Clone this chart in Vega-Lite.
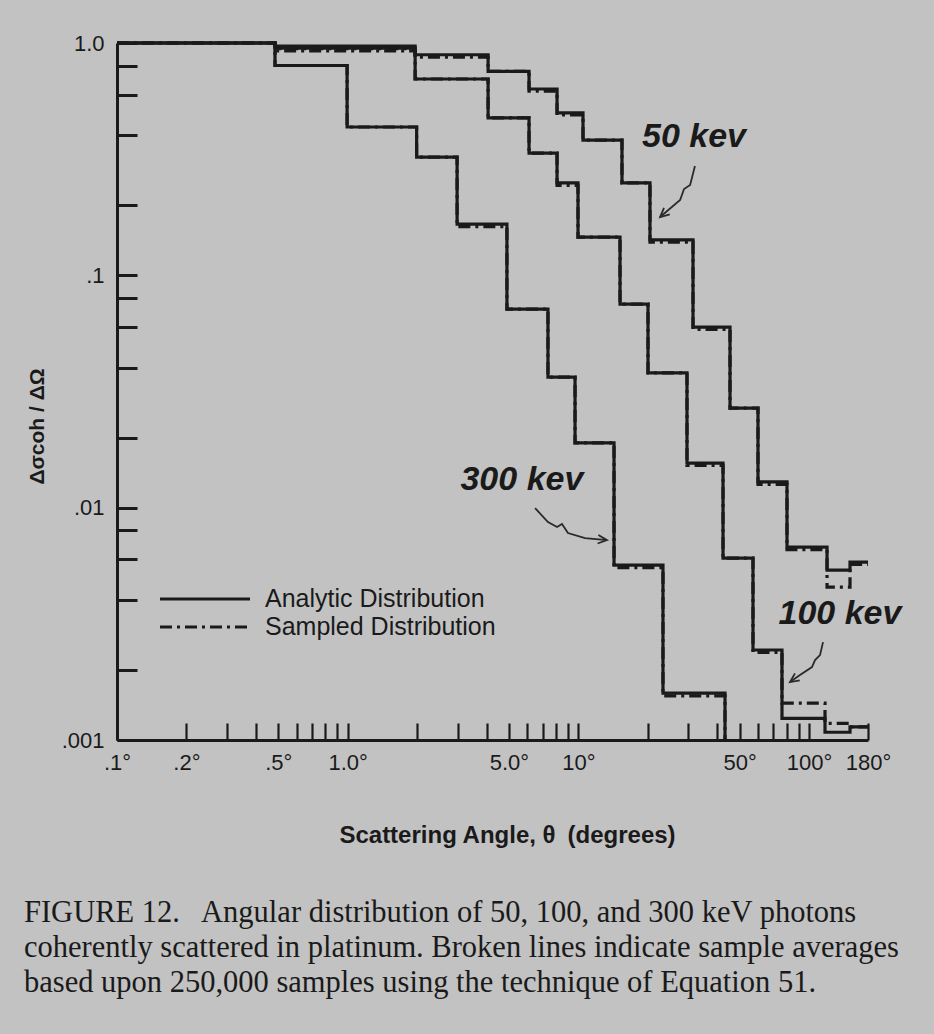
{
  "$schema": "https://vega.github.io/schema/vega-lite/v6.json",
  "width": 751,
  "height": 697,
  "autosize": {"type": "none"},
  "padding": {"left": 117, "top": 43, "right": 66, "bottom": 294},
  "background": "#c2c2c2",
  "config": {"view": {"stroke": null}, "font": "Liberation Sans"},
  "title": {
    "text": [
      "FIGURE 12.\u2002 Angular distribution of 50, 100, and 300 keV photons",
      "coherently scattered in platinum. Broken lines indicate sample averages",
      "based upon 250,000 samples using the technique of Equation 51."
    ],
    "orient": "bottom",
    "anchor": "start",
    "frame": "group",
    "dx": -93,
    "offset": 51,
    "font": "Liberation Serif",
    "fontSize": 30.5,
    "fontWeight": "normal",
    "color": "#1a1a1a",
    "lineHeight": 35
  },
  "datasets": {
    "curves": [
      {"energy": "300 keV", "type": "Analytic Distribution", "angle": 0.1, "value": 1.0},
      {"energy": "300 keV", "type": "Analytic Distribution", "angle": 0.484, "value": 0.80},
      {"energy": "300 keV", "type": "Analytic Distribution", "angle": 0.994, "value": 0.435},
      {"energy": "300 keV", "type": "Analytic Distribution", "angle": 1.99, "value": 0.323},
      {"energy": "300 keV", "type": "Analytic Distribution", "angle": 2.98, "value": 0.166},
      {"energy": "300 keV", "type": "Analytic Distribution", "angle": 4.9, "value": 0.0716},
      {"energy": "300 keV", "type": "Analytic Distribution", "angle": 7.38, "value": 0.0365},
      {"energy": "300 keV", "type": "Analytic Distribution", "angle": 9.67, "value": 0.019},
      {"energy": "300 keV", "type": "Analytic Distribution", "angle": 14.27, "value": 0.00566},
      {"energy": "300 keV", "type": "Analytic Distribution", "angle": 23.26, "value": 0.00159},
      {"energy": "300 keV", "type": "Analytic Distribution", "angle": 43.2, "value": 0.001},

      {"energy": "100 keV", "type": "Analytic Distribution", "angle": 0.1, "value": 1.0},
      {"energy": "100 keV", "type": "Analytic Distribution", "angle": 0.484, "value": 0.95},
      {"energy": "100 keV", "type": "Analytic Distribution", "angle": 1.96, "value": 0.70},
      {"energy": "100 keV", "type": "Analytic Distribution", "angle": 4.06, "value": 0.476},
      {"energy": "100 keV", "type": "Analytic Distribution", "angle": 6.11, "value": 0.336},
      {"energy": "100 keV", "type": "Analytic Distribution", "angle": 8.08, "value": 0.25},
      {"energy": "100 keV", "type": "Analytic Distribution", "angle": 9.96, "value": 0.146},
      {"energy": "100 keV", "type": "Analytic Distribution", "angle": 15.15, "value": 0.0752},
      {"energy": "100 keV", "type": "Analytic Distribution", "angle": 20.03, "value": 0.038},
      {"energy": "100 keV", "type": "Analytic Distribution", "angle": 29.56, "value": 0.01556},
      {"energy": "100 keV", "type": "Analytic Distribution", "angle": 42.35, "value": 0.00607},
      {"energy": "100 keV", "type": "Analytic Distribution", "angle": 57.12, "value": 0.00244},
      {"energy": "100 keV", "type": "Analytic Distribution", "angle": 76.29, "value": 0.00124},
      {"energy": "100 keV", "type": "Analytic Distribution", "angle": 117.2, "value": 0.00108},
      {"energy": "100 keV", "type": "Analytic Distribution", "angle": 150.4, "value": 0.00114},
      {"energy": "100 keV", "type": "Analytic Distribution", "angle": 180, "value": 0.00114},

      {"energy": "50 keV", "type": "Analytic Distribution", "angle": 0.1, "value": 1.0},
      {"energy": "50 keV", "type": "Analytic Distribution", "angle": 0.484, "value": 0.97},
      {"energy": "50 keV", "type": "Analytic Distribution", "angle": 1.96, "value": 0.89},
      {"energy": "50 keV", "type": "Analytic Distribution", "angle": 4.06, "value": 0.755},
      {"energy": "50 keV", "type": "Analytic Distribution", "angle": 6.11, "value": 0.634},
      {"energy": "50 keV", "type": "Analytic Distribution", "angle": 8.08, "value": 0.5},
      {"energy": "50 keV", "type": "Analytic Distribution", "angle": 10.47, "value": 0.382},
      {"energy": "50 keV", "type": "Analytic Distribution", "angle": 15.45, "value": 0.25},
      {"energy": "50 keV", "type": "Analytic Distribution", "angle": 20.43, "value": 0.142},
      {"energy": "50 keV", "type": "Analytic Distribution", "angle": 31.39, "value": 0.0599},
      {"energy": "50 keV", "type": "Analytic Distribution", "angle": 45.41, "value": 0.0268},
      {"energy": "50 keV", "type": "Analytic Distribution", "angle": 60.04, "value": 0.0129},
      {"energy": "50 keV", "type": "Analytic Distribution", "angle": 80.2, "value": 0.00677},
      {"energy": "50 keV", "type": "Analytic Distribution", "angle": 119.6, "value": 0.00539},
      {"energy": "50 keV", "type": "Analytic Distribution", "angle": 150.4, "value": 0.00583},
      {"energy": "50 keV", "type": "Analytic Distribution", "angle": 180, "value": 0.00583},

      {"energy": "300 keV", "type": "Sampled Distribution", "angle": 0.1, "value": 1.0},
      {"energy": "300 keV", "type": "Sampled Distribution", "angle": 0.484, "value": 0.80},
      {"energy": "300 keV", "type": "Sampled Distribution", "angle": 0.994, "value": 0.435},
      {"energy": "300 keV", "type": "Sampled Distribution", "angle": 1.99, "value": 0.323},
      {"energy": "300 keV", "type": "Sampled Distribution", "angle": 2.98, "value": 0.162},
      {"energy": "300 keV", "type": "Sampled Distribution", "angle": 4.9, "value": 0.0716},
      {"energy": "300 keV", "type": "Sampled Distribution", "angle": 7.38, "value": 0.0365},
      {"energy": "300 keV", "type": "Sampled Distribution", "angle": 9.67, "value": 0.019},
      {"energy": "300 keV", "type": "Sampled Distribution", "angle": 14.27, "value": 0.00552},
      {"energy": "300 keV", "type": "Sampled Distribution", "angle": 23.26, "value": 0.00155},
      {"energy": "300 keV", "type": "Sampled Distribution", "angle": 43.2, "value": 0.001},

      {"energy": "100 keV", "type": "Sampled Distribution", "angle": 0.1, "value": 1.0},
      {"energy": "100 keV", "type": "Sampled Distribution", "angle": 0.484, "value": 0.925},
      {"energy": "100 keV", "type": "Sampled Distribution", "angle": 1.96, "value": 0.70},
      {"energy": "100 keV", "type": "Sampled Distribution", "angle": 4.06, "value": 0.476},
      {"energy": "100 keV", "type": "Sampled Distribution", "angle": 6.11, "value": 0.336},
      {"energy": "100 keV", "type": "Sampled Distribution", "angle": 8.08, "value": 0.244},
      {"energy": "100 keV", "type": "Sampled Distribution", "angle": 9.96, "value": 0.146},
      {"energy": "100 keV", "type": "Sampled Distribution", "angle": 15.15, "value": 0.0752},
      {"energy": "100 keV", "type": "Sampled Distribution", "angle": 20.03, "value": 0.038},
      {"energy": "100 keV", "type": "Sampled Distribution", "angle": 29.56, "value": 0.0152},
      {"energy": "100 keV", "type": "Sampled Distribution", "angle": 42.35, "value": 0.00607},
      {"energy": "100 keV", "type": "Sampled Distribution", "angle": 57.12, "value": 0.00238},
      {"energy": "100 keV", "type": "Sampled Distribution", "angle": 76.29, "value": 0.00144},
      {"energy": "100 keV", "type": "Sampled Distribution", "angle": 117.2, "value": 0.00118},
      {"energy": "100 keV", "type": "Sampled Distribution", "angle": 150.4, "value": 0.00114},
      {"energy": "100 keV", "type": "Sampled Distribution", "angle": 180, "value": 0.00114},

      {"energy": "50 keV", "type": "Sampled Distribution", "angle": 0.1, "value": 1.0},
      {"energy": "50 keV", "type": "Sampled Distribution", "angle": 0.484, "value": 0.945},
      {"energy": "50 keV", "type": "Sampled Distribution", "angle": 1.96, "value": 0.87},
      {"energy": "50 keV", "type": "Sampled Distribution", "angle": 4.06, "value": 0.755},
      {"energy": "50 keV", "type": "Sampled Distribution", "angle": 6.11, "value": 0.62},
      {"energy": "50 keV", "type": "Sampled Distribution", "angle": 8.08, "value": 0.49},
      {"energy": "50 keV", "type": "Sampled Distribution", "angle": 10.47, "value": 0.382},
      {"energy": "50 keV", "type": "Sampled Distribution", "angle": 15.45, "value": 0.25},
      {"energy": "50 keV", "type": "Sampled Distribution", "angle": 20.43, "value": 0.139},
      {"energy": "50 keV", "type": "Sampled Distribution", "angle": 31.39, "value": 0.0585},
      {"energy": "50 keV", "type": "Sampled Distribution", "angle": 45.41, "value": 0.0268},
      {"energy": "50 keV", "type": "Sampled Distribution", "angle": 60.04, "value": 0.0126},
      {"energy": "50 keV", "type": "Sampled Distribution", "angle": 80.2, "value": 0.0066},
      {"energy": "50 keV", "type": "Sampled Distribution", "angle": 119.6, "value": 0.00455},
      {"energy": "50 keV", "type": "Sampled Distribution", "angle": 150.4, "value": 0.0057},
      {"energy": "50 keV", "type": "Sampled Distribution", "angle": 180, "value": 0.0057}
    ],
    "arrows": [
      {"part": "a50", "seq": 1, "angle": 32.0, "value": 0.2955},
      {"part": "a50", "seq": 2, "angle": 30.5, "value": 0.2447},
      {"part": "a50", "seq": 3, "angle": 28.7, "value": 0.2352},
      {"part": "a50", "seq": 4, "angle": 27.6, "value": 0.2109},
      {"part": "a50", "seq": 5, "angle": 22.6, "value": 0.1782},
      {"part": "h50", "seq": 1, "angle": 24.9, "value": 0.1831},
      {"part": "h50", "seq": 2, "angle": 22.6, "value": 0.1782},
      {"part": "h50", "seq": 3, "angle": 23.5, "value": 0.195},
      {"part": "a300", "seq": 1, "angle": 6.49, "value": 0.009961},
      {"part": "a300", "seq": 2, "angle": 7.38, "value": 0.00867},
      {"part": "a300", "seq": 3, "angle": 8.08, "value": 0.008254},
      {"part": "a300", "seq": 4, "angle": 8.49, "value": 0.0085},
      {"part": "a300", "seq": 5, "angle": 9.01, "value": 0.007775},
      {"part": "a300", "seq": 6, "angle": 10.68, "value": 0.0073957},
      {"part": "a300", "seq": 7, "angle": 13.3, "value": 0.0072506},
      {"part": "h300", "seq": 1, "angle": 12.21, "value": 0.007621},
      {"part": "h300", "seq": 2, "angle": 13.3, "value": 0.0072506},
      {"part": "h300", "seq": 3, "angle": 12.11, "value": 0.0070105},
      {"part": "a100", "seq": 1, "angle": 114.9, "value": 0.002638},
      {"part": "a100", "seq": 2, "angle": 111.5, "value": 0.00232},
      {"part": "a100", "seq": 3, "angle": 106.1, "value": 0.002208},
      {"part": "a100", "seq": 4, "angle": 102.9, "value": 0.00206},
      {"part": "a100", "seq": 5, "angle": 91.3, "value": 0.001903},
      {"part": "a100", "seq": 6, "angle": 82.65, "value": 0.001775},
      {"part": "h100", "seq": 1, "angle": 91.1, "value": 0.001805},
      {"part": "h100", "seq": 2, "angle": 82.65, "value": 0.001775},
      {"part": "h100", "seq": 3, "angle": 86.85, "value": 0.001935}
    ],
    "notes": [
      {"label": "50 kev", "angle": 31.7, "value": 0.3937},
      {"label": "300 kev", "angle": 5.69, "value": 0.01315},
      {"label": "100 kev", "angle": 136.1, "value": 0.003483}
    ]
  },
  "layer": [
    {
      "data": {"name": "curves"},
      "transform": [{"filter": "datum.type === 'Analytic Distribution'"}],
      "mark": {"type": "line", "interpolate": "step-after", "strokeWidth": 3.2, "color": "#1a1a1a"},
      "encoding": {
        "x": {
          "field": "angle", "type": "quantitative",
          "scale": {"type": "log", "domain": [0.1, 180], "nice": false},
          "axis": {
            "values": [0.1, 0.2, 0.3, 0.4, 0.5, 0.6, 0.7, 0.8, 0.9, 1, 2, 3, 4, 5, 6, 7, 8, 9, 10, 20, 30, 40, 50, 60, 70, 80, 90, 100, 180],
            "labelExpr": "datum.value == 0.1 ? '.1°' : datum.value == 0.2 ? '.2°' : datum.value == 0.5 ? '.5°' : datum.value == 1 ? '1.0°' : datum.value == 5 ? '5.0°' : datum.value == 10 ? '10°' : datum.value == 50 ? '50°' : datum.value == 100 ? '100°' : datum.value == 180 ? '180°' : ''",
            "labelOverlap": false,
            "labelFlush": false,
            "grid": false,
            "tickSize": -17,
            "tickWidth": 2.2,
            "tickColor": "#1a1a1a",
            "domainColor": "#1a1a1a",
            "domainWidth": 3,
            "labelFont": "Liberation Sans",
            "labelFontSize": 22,
            "labelColor": "#1a1a1a",
            "labelPadding": 29,
            "title": "Scattering Angle, θ\u2002(degrees)",
            "titleFont": "Liberation Sans",
            "titleFontSize": 24,
            "titleFontWeight": "bold",
            "titleColor": "#1a1a1a",
            "titleX": 390,
            "titleY": 95,
            "titleAlign": "center",
            "titleBaseline": "middle"
          }
        },
        "y": {
          "field": "value", "type": "quantitative",
          "scale": {"type": "log", "domain": [0.001, 1], "nice": false},
          "axis": {
            "values": [1, 0.8, 0.6, 0.4, 0.2, 0.1, 0.08, 0.06, 0.04, 0.02, 0.01, 0.008, 0.006, 0.004, 0.002, 0.001],
            "labelExpr": "datum.value == 1 ? '1.0' : datum.value == 0.1 ? '.1' : datum.value == 0.01 ? '.01' : datum.value == 0.001 ? '.001' : ''",
            "labelOverlap": false,
            "labelFlush": false,
            "grid": false,
            "tickSize": -20,
            "tickWidth": 3,
            "tickColor": "#1a1a1a",
            "domainColor": "#1a1a1a",
            "domainWidth": 3,
            "labelFont": "Liberation Sans",
            "labelFontSize": 22,
            "labelColor": "#1a1a1a",
            "labelPadding": 33,
            "title": "Δσcoh / ΔΩ",
            "titleFont": "Liberation Sans",
            "titleFontSize": 21,
            "titleFontWeight": "bold",
            "titleColor": "#1a1a1a",
            "titleAngle": -90,
            "titleX": -80,
            "titleY": 383,
            "titleAlign": "center",
            "titleBaseline": "middle"
          }
        },
        "detail": {"field": "energy", "type": "nominal"},
        "strokeDash": {
          "field": "type", "type": "nominal",
          "scale": {"domain": ["Analytic Distribution", "Sampled Distribution"], "range": [[1, 0], [12, 5, 3, 5]]},
          "legend": {
            "orient": "none",
            "legendX": 103,
            "legendY": 541,
            "title": null,
            "padding": 0,
            "rowPadding": 0,
            "symbolType": "M-5.556,0H1.111",
            "symbolSize": 729,
            "symbolStrokeWidth": 3,
            "symbolStrokeColor": "#1a1a1a",
            "symbolFillColor": "transparent",
            "labelFont": "Liberation Sans",
            "labelFontSize": 25,
            "labelColor": "#1a1a1a",
            "labelOffset": 15,
            "labelLimit": 400
          }
        }
      }
    },
    {
      "data": {"name": "curves"},
      "transform": [{"filter": "datum.type === 'Sampled Distribution'"}],
      "mark": {"type": "line", "interpolate": "step-after", "strokeWidth": 3.2, "color": "#1a1a1a"},
      "encoding": {
        "x": {"field": "angle", "type": "quantitative"},
        "y": {"field": "value", "type": "quantitative"},
        "detail": {"field": "energy", "type": "nominal"},
        "strokeDash": {"field": "type", "type": "nominal"}
      }
    },
    {
      "data": {"name": "arrows"},
      "mark": {"type": "line", "strokeWidth": 1.8, "color": "#2a2a2a"},
      "encoding": {
        "x": {"field": "angle", "type": "quantitative"},
        "y": {"field": "value", "type": "quantitative"},
        "detail": {"field": "part", "type": "nominal"},
        "order": {"field": "seq", "type": "quantitative"}
      }
    },
    {
      "data": {"name": "notes"},
      "mark": {"type": "text", "font": "Liberation Sans", "fontSize": 34, "fontWeight": "bold", "fontStyle": "italic", "color": "#1a1a1a", "align": "center", "baseline": "middle"},
      "encoding": {
        "x": {"field": "angle", "type": "quantitative"},
        "y": {"field": "value", "type": "quantitative"},
        "text": {"field": "label", "type": "nominal"}
      }
    }
  ]
}
